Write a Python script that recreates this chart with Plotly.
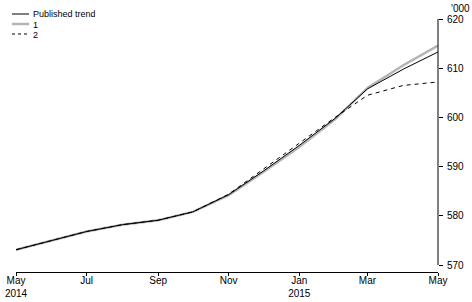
import plotly.graph_objects as go

months = ["2014-05-01", "2014-06-01", "2014-07-01", "2014-08-01", "2014-09-01", "2014-10-01",
          "2014-11-01", "2014-12-01", "2015-01-01", "2015-02-01", "2015-03-01", "2015-04-01",
          "2015-05-01"]
published_trend = [573.1, 575.0, 576.8, 578.2, 579.1, 580.8, 584.3, 589.1, 594.3, 599.8, 605.8, 609.8, 613.3]
series_1 = [573.1, 575.0, 576.8, 578.2, 579.1, 580.8, 584.2, 588.9, 594.0, 599.6, 606.0, 610.6, 614.6]
series_2 = [573.1, 575.0, 576.8, 578.2, 579.1, 580.8, 584.4, 589.5, 594.7, 600.0, 604.5, 606.5, 607.2]

tick_vals = ["2014-05-01", "2014-07-01", "2014-09-01", "2014-11-01", "2015-01-01", "2015-03-01", "2015-05-01"]
tick_text = ["May<br>2014", "Jul", "Sep", "Nov", "Jan<br>2015", "Mar", "May"]
y_ticks = [570, 580, 590, 600, 610, 620]

FONT = "Liberation Sans"
W, H = 472, 302
L, R, T, B = 16, 34, 19, 30
PW, PH = W - L - R, H - T - B

def px_x(p):
    return (p - L) / PW

def px_y(p):
    return (H - B - p) / PH

fig = go.Figure()
fig.add_trace(go.Scatter(x=months, y=series_1, mode="lines", name="1",
                         line=dict(color="#b4b4b4", width=2.5)))
fig.add_trace(go.Scatter(x=months, y=series_2, mode="lines", name="2",
                         line=dict(color="black", width=1, dash="4px,4px")))
fig.add_trace(go.Scatter(x=months, y=published_trend, mode="lines", name="Published trend",
                         line=dict(color="black", width=1)))

ymin = 570 - 7 / (246 / 50)
fig.update_layout(
    width=W, height=H,
    margin=dict(l=L, r=R, t=T, b=B, pad=0, autoexpand=False),
    paper_bgcolor="white", plot_bgcolor="white",
    showlegend=False,
    font=dict(family=FONT, size=10, color="black"),
    xaxis=dict(type="date", range=["2014-05-01", "2015-05-01"], showgrid=False, zeroline=False,
               showline=True, linecolor="black", linewidth=1, ticks="outside", ticklen=3,
               tickcolor="black", tickvals=tick_vals, ticktext=tick_text, automargin=False,
               ticklabelstandoff=-4,
               tickfont=dict(family=FONT, size=10)),
    yaxis=dict(side="right", range=[ymin, 620], showgrid=False, zeroline=False, showline=False,
               ticks="outside", ticklen=4, tickcolor="black", tickvals=y_ticks, automargin=False,
               ticklabelstandoff=2,
               tickfont=dict(family=FONT, size=10)),
)

fig.add_shape(type="line", xref="paper", yref="y", x0=1, x1=1, y0=570, y1=620,
              line=dict(color="black", width=1))

legend_items = [("Published trend", dict(color="black", width=1)),
                ("1", dict(color="#b4b4b4", width=2.5)),
                ("2", dict(color="black", width=1, dash="3px,3px"))]
for i, (label, ln) in enumerate(legend_items):
    yy = 14 + 10 * i
    fig.add_shape(type="line", xref="paper", yref="paper", x0=px_x(12), x1=px_x(29),
                  y0=px_y(yy), y1=px_y(yy), line=ln)
    fig.add_annotation(text=label, xref="paper", yref="paper", x=px_x(32), y=px_y(yy),
                       xanchor="left", yanchor="middle", showarrow=False,
                       height=9, borderpad=0,
                       font=dict(family=FONT, size=9, color="black"))

fig.add_annotation(text="'000", xref="paper", yref="paper", x=px_x(449), y=px_y(8),
                   xanchor="left", yanchor="middle", showarrow=False,
                   font=dict(family=FONT, size=10, color="black"))

fig.write_html("out.html")
